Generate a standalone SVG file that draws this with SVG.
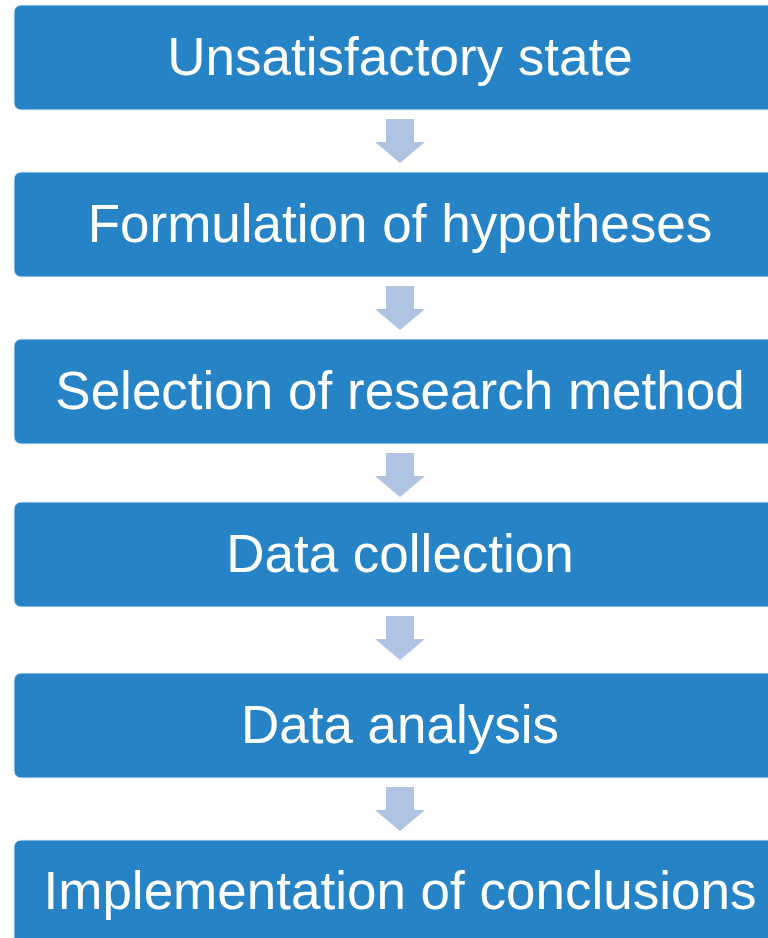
<svg xmlns="http://www.w3.org/2000/svg" width="768" height="938" viewBox="0 0 768 938">
<style>
.box{fill:#2683C6;stroke:#E4EEF8;stroke-width:1}
.lbl{font-family:"Liberation Sans",Arial,sans-serif;font-size:53px;fill:#FFFFFF;text-anchor:middle}
.arr{fill:#AFC3E3}
</style>
<defs>
<polygon id="ar" class="arr" points="386,0 414,0 414,23 425,23 400,44 375,23 386,23"/>
</defs>
<g id="connectors">
<use href="#ar" y="119"/>
<use href="#ar" y="286"/>
<use href="#ar" y="453"/>
<use href="#ar" y="616"/>
<use href="#ar" y="787"/>
</g>
<g id="n1"><rect class="box" x="14" y="5" width="790" height="105" rx="7"/><text class="lbl" x="400" y="75">Unsatisfactory state</text></g>
<g id="n2"><rect class="box" x="14" y="172" width="790" height="105" rx="7"/><text class="lbl" x="400" y="242">Formulation of hypotheses</text></g>
<g id="n3"><rect class="box" x="14" y="339" width="790" height="105" rx="7"/><text class="lbl" x="400" y="409">Selection of research method</text></g>
<g id="n4"><rect class="box" x="14" y="502" width="790" height="105" rx="7"/><text class="lbl" x="400" y="572">Data collection</text></g>
<g id="n5"><rect class="box" x="14" y="673" width="790" height="105" rx="7"/><text class="lbl" x="400" y="743">Data analysis</text></g>
<g id="n6"><rect class="box" x="14" y="840" width="790" height="110" rx="7"/><text class="lbl" x="400" y="909">Implementation of conclusions</text></g>
</svg>
